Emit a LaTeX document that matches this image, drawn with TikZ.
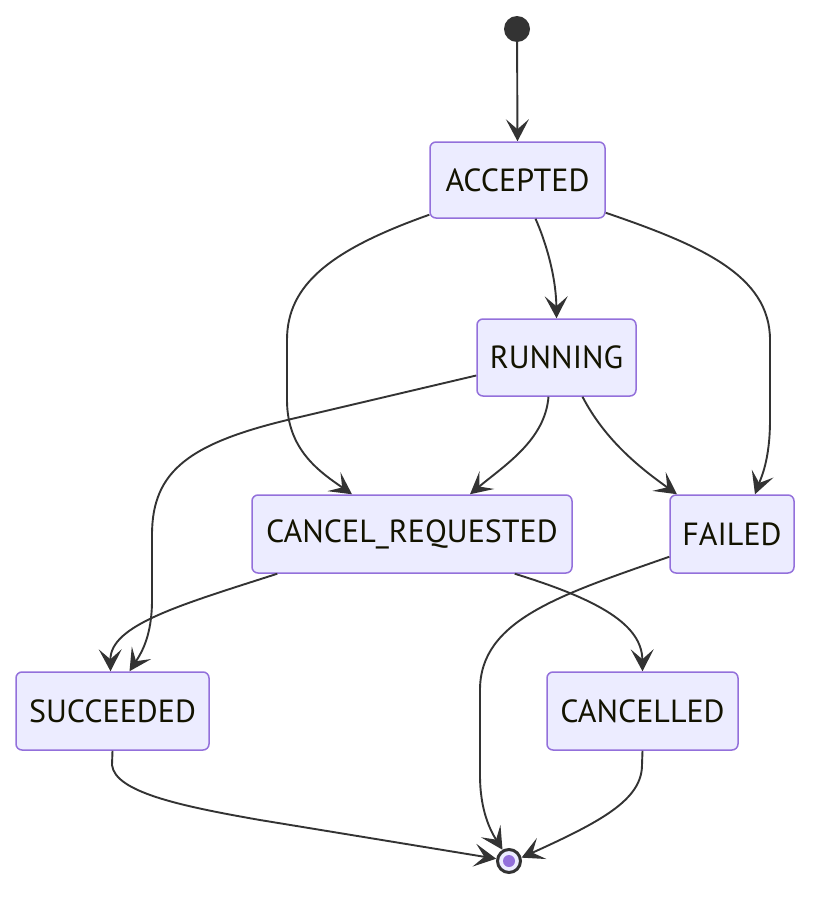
\documentclass[tikz,border=0pt]{standalone}
\usepackage{fontspec}
\setmainfont{PT Sans}
\usetikzlibrary{arrows.meta,calc}
\definecolor{boxfill}{HTML}{ECECFF}
\definecolor{boxline}{HTML}{9370DB}
\definecolor{edge}{HTML}{333333}
\definecolor{txt}{HTML}{131300}
\tikzset{
  st/.style={draw=boxline,fill=boxfill,line width=1.5pt,rounded corners=6pt,
    inner sep=0pt,text=txt,font=\fontsize{32}{36}\selectfont},
  tr/.style={draw=edge,line width=1.9pt,-{Stealth[length=22pt,width=23pt,inset=10pt]}},
}
\begin{document}
\begin{tikzpicture}[x=1pt,y=-1pt]
\useasboundingbox (0,0) rectangle (826,908);
\node[circle,fill=edge,minimum size=26pt,inner sep=0pt] (start) at (517,29) {};
\node[circle,draw=edge,line width=3pt,fill=boxfill,minimum size=23pt,inner sep=0pt] (end) at (509,861) {};
\node[circle,fill=boxline,minimum size=12pt,inner sep=0pt] (enddot) at (end.center) {};
\node[st,minimum width=175pt,minimum height=76pt] (acc) at (517.5,180) {ACCEPTED};
\node[st,minimum width=159pt,minimum height=77pt] (run) at (556.5,357.5) {RUNNING};
\node[st,minimum width=320pt,minimum height=78pt] (cr) at (412,534) {CANCEL\_REQUESTED};
\node[st,minimum width=124pt,minimum height=78pt] (fail) at (732,534) {FAILED};
\node[st,minimum width=193pt,minimum height=78pt] (succ) at (112.5,711) {SUCCEEDED};
\node[st,minimum width=191pt,minimum height=78pt] (canc) at (642.5,711) {CANCELLED};
% edges
\draw[tr] (start) -- (acc.north);
\draw[tr] ([shift={(0,-4)}]acc.south west) .. controls (330,250) and (287,285) .. (287,340) -- (287,400) .. controls (287,450) and (320,472) .. ([xshift=-60pt]cr.north);
\draw[tr] ([xshift=18pt]acc.south) .. controls (545,240) and (556,275) .. (run.north);
\draw[tr] ([shift={(0,-6)}]acc.south east) .. controls (700,245) and (770,275) .. (770,340) -- (770,420) .. controls (770,460) and (761,478) .. ([xshift=23pt]fail.north);
\draw[tr] ([shift={(0,18)}]run.west) -- (300,417) .. controls (190,442) and (152,470) .. (152,535) -- (152,600) .. controls (152,635) and (142,652) .. ([xshift=17pt]succ.north);
\draw[tr] ([xshift=-8pt]run.south) .. controls (545,440) and (505,465) .. ([xshift=58pt]cr.north);
\draw[tr] ([xshift=26pt]run.south) .. controls (605,440) and (640,468) .. ([xshift=-55pt]fail.north);
\draw[tr] ([xshift=26pt]cr.south west) .. controls (180,605) and (110,625) .. ([xshift=-2pt]succ.north);
\draw[tr] ([xshift=-58pt]cr.south east) .. controls (600,600) and (642,625) .. (canc.north);
\draw[tr] ([shift={(0,-17)}]fail.south west) .. controls (560,595) and (480,620) .. (480,690) -- (480,775) .. controls (480,810) and (490,830) .. (end.120);
\draw[tr] (succ.south) -- (112,765) .. controls (115,792) and (180,806) .. (260,820) -- (end.170);
\draw[tr] (canc.south) -- (642,765) .. controls (642,800) and (600,822) .. (end.15);
\end{tikzpicture}
\end{document}
